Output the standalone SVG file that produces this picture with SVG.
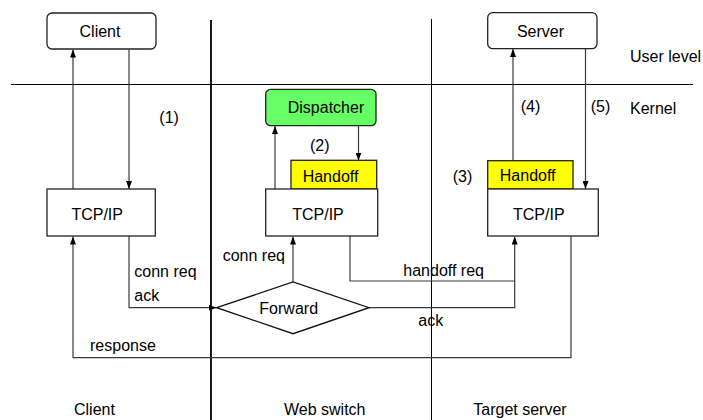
<svg xmlns="http://www.w3.org/2000/svg" width="703" height="420" viewBox="0 0 703 420">
<defs>
<marker id="ah" markerWidth="8" markerHeight="6" refX="8" refY="3" orient="auto" markerUnits="userSpaceOnUse">
<path d="M0,0 L8,3 L0,6 Z" fill="#000"/>
</marker>
<style>
text{font-family:"Liberation Sans",Arial,sans-serif;font-size:16px;fill:#000}
.box{fill:#fff;stroke:#222;stroke-width:1.3}
.c{text-anchor:middle}
.conn{fill:none;stroke:#3a3a3a;stroke-width:1.2}
.arr{marker-end:url(#ah)}
.sep{stroke:#000;fill:none}
</style>
</defs>
<rect width="703" height="420" fill="#fff"/>
<g id="separators">
<line class="sep" x1="11" y1="84.5" x2="693" y2="84.5" stroke-width="1"/>
<line class="sep" x1="211" y1="20" x2="211" y2="420" stroke-width="1.8"/>
<line class="sep" x1="431.5" y1="19" x2="431.5" y2="420" stroke-width="1"/>
</g>
<g id="connectors">
<line class="conn arr" x1="73" y1="189" x2="73" y2="49.5"/>
<line class="conn arr" x1="129" y1="49.5" x2="129" y2="189"/>
<line class="conn arr" x1="275" y1="189" x2="275" y2="126"/>
<line class="conn arr" x1="358.5" y1="126" x2="358.5" y2="160.5"/>
<line class="conn arr" x1="513" y1="160.5" x2="513" y2="49"/>
<line class="conn arr" x1="585.5" y1="49" x2="585.5" y2="189"/>
<polyline class="conn arr" points="129,236 129,307.7 216.5,307.7"/>
<line class="conn arr" x1="293" y1="282" x2="293" y2="236.5"/>
<polyline class="conn arr" points="350,236 350,281 514.7,281 514.7,236.5"/>
<polyline class="conn" points="369,307.7 514.7,307.7 514.7,281"/>
<polyline class="conn arr" points="571,236 571,357.7 73,357.7 73,236.5"/>
</g>
<g id="client">
<rect class="box" x="47" y="13" width="109" height="36" rx="5"/>
<text class="c" x="100" y="37">Client</text>
</g>
<g id="server">
<rect class="box" x="487.7" y="12.7" width="109.3" height="36" rx="5"/>
<text class="c" x="540.5" y="37">Server</text>
</g>
<g id="dispatcher">
<rect x="265.7" y="89.3" width="110.3" height="36.4" rx="5" fill="#66ff66" stroke="#222" stroke-width="1.3"/>
<text class="c" x="326" y="113.3">Dispatcher</text>
</g>
<g id="switch-handoff">
<rect x="291" y="160.3" width="85.7" height="28.7" fill="#ffff00" stroke="#222" stroke-width="1.3"/>
<text class="c" x="330.5" y="181.7">Handoff</text>
</g>
<g id="server-handoff">
<rect x="487.7" y="160.7" width="85.3" height="28.3" fill="#ffff00" stroke="#222" stroke-width="1.3"/>
<text class="c" x="527.7" y="181">Handoff</text>
</g>
<g id="client-tcp">
<rect class="box" x="47" y="189" width="108.3" height="47"/>
<text class="c" x="97.2" y="219.5">TCP/IP</text>
</g>
<g id="switch-tcp">
<rect class="box" x="265.7" y="189" width="112" height="47"/>
<text class="c" x="318" y="219.5">TCP/IP</text>
</g>
<g id="server-tcp">
<rect class="box" x="487.7" y="189" width="110.6" height="47"/>
<text class="c" x="538.8" y="219.5">TCP/IP</text>
</g>
<g id="forward">
<polygon points="216.7,307.7 293,282 369,307.7 293,333.7" fill="#fff" stroke="#111" stroke-width="1.3"/>
<text class="c" x="288.7" y="313.7">Forward</text>
</g>
<g id="labels">
<text x="630" y="62">User level</text>
<text x="630" y="114">Kernel</text>
<text x="159.3" y="123">(1)</text>
<text x="310" y="151">(2)</text>
<text x="452.7" y="182">(3)</text>
<text x="520.7" y="111.5">(4)</text>
<text x="590.7" y="111.5">(5)</text>
<text x="134.3" y="276.5">conn req</text>
<text x="134.3" y="300.5">ack</text>
<text x="222.7" y="261">conn req</text>
<text x="90" y="350.7">response</text>
<text x="403.3" y="276.3">handoff req</text>
<text x="418.3" y="326">ack</text>
<text x="74" y="415">Client</text>
<text x="284" y="415">Web switch</text>
<text x="473.3" y="415">Target server</text>
</g>
</svg>
